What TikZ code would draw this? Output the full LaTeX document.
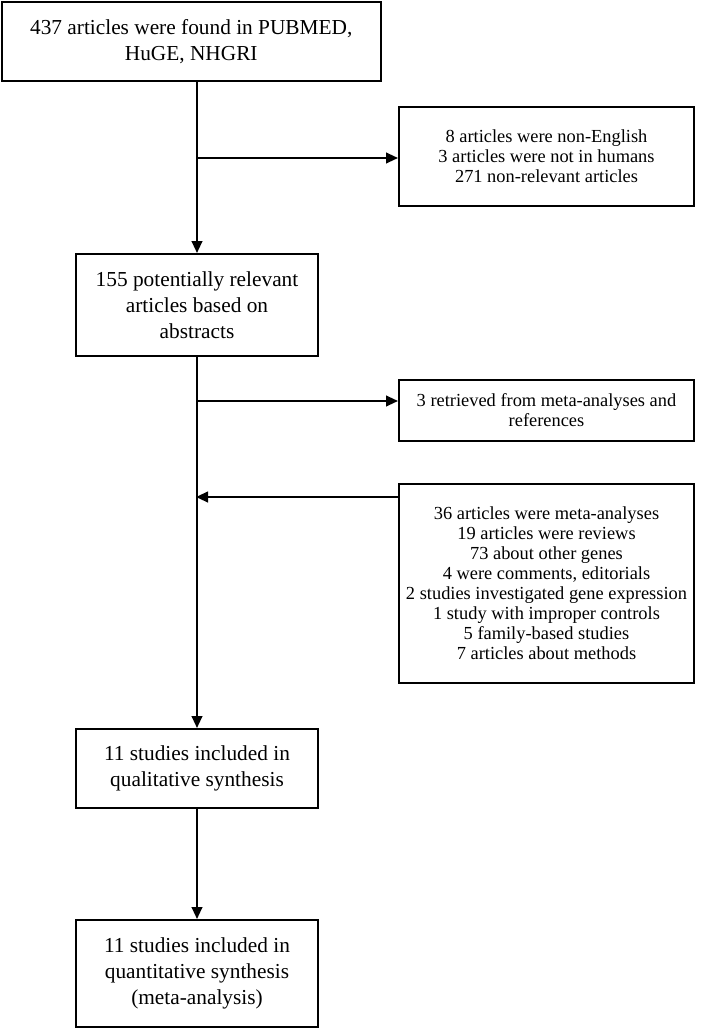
\documentclass[tikz,border=0pt]{standalone}
\usepackage{fontspec}
\setmainfont{Liberation Serif}
\usetikzlibrary{arrows.meta}
\begin{document}
\begin{tikzpicture}[x=0.75pt,y=-0.75pt,
  box/.style={draw,line width=1.5pt,inner sep=0pt,align=center,anchor=north west},
  big/.style={font=\fontsize{16}{19.5}\selectfont},
  small/.style={font=\fontsize{13.8}{15}\selectfont},
  line/.style={line width=1.5pt},
  arr/.style={line width=1.5pt,-{Triangle[length=9pt,width=8pt]}}]
\useasboundingbox (0,0) rectangle (701,1028);
\node[box,big,minimum width=379*0.75pt,minimum height=79*0.75pt] (b1) at (0.75,0.75) {437 articles were found in PUBMED,\\HuGE, NHGRI};
\node[box,small,minimum width=295*0.75pt,minimum height=99*0.75pt] (b2) at (398,106) {8 articles were non-English\\3 articles were not in humans\\271 non-relevant articles};
\node[box,big,minimum width=242*0.75pt,minimum height=102*0.75pt] (b3) at (75,253) {155 potentially relevant\\articles based on\\abstracts};
\node[box,small,minimum width=295*0.75pt,minimum height=61*0.75pt] (b4) at (398,379) {3 retrieved from meta-analyses and\\references};
\node[box,small,minimum width=295*0.75pt,minimum height=199*0.75pt] (b5) at (398,483) {36 articles were meta-analyses\\19 articles were reviews\\73 about other genes\\4 were comments, editorials\\2 studies investigated gene expression\\1 study with improper controls\\5 family-based studies\\7 articles about methods};
\node[box,big,minimum width=242*0.75pt,minimum height=79*0.75pt] (b6) at (75,728) {11 studies included in\\qualitative synthesis};
\node[box,big,minimum width=242*0.75pt,minimum height=107*0.75pt] (b7) at (75,919) {11 studies included in\\quantitative synthesis\\(meta-analysis)};
\coordinate (j1) at (196,158);
\coordinate (j2) at (196,401);
\coordinate (j3) at (196,497);
\draw[arr] (b3.north |- b1.south) -- (b3.north);
\draw[arr] (j1) -- (b2.west |- j1);
\draw[arr] (b3.south) -- (b6.north);
\draw[arr] (j2) -- (b4.west |- j2);
\draw[arr] (b5.west |- j3) -- (j3);
\draw[arr] (b6.south) -- (b7.north);
\end{tikzpicture}
\end{document}
